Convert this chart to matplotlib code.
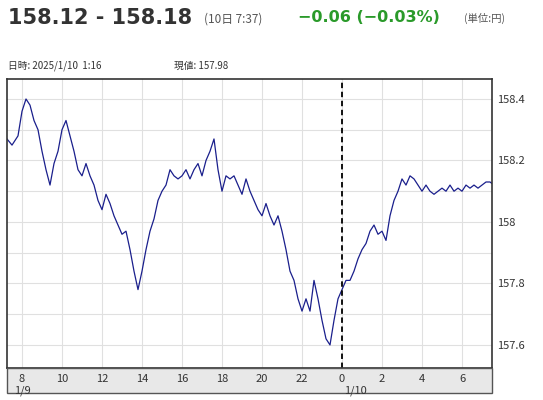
import matplotlib.pyplot as plt
from matplotlib.patches import Rectangle

plt.rcParams['font.family'] = ['Noto Sans CJK JP', 'DejaVu Sans']

vals = [158.27, 158.25, 158.28, 158.36, 158.40, 158.38, 158.33, 158.30, 158.23, 158.17,
        158.12, 158.19, 158.23, 158.30, 158.33, 158.28, 158.23, 158.17, 158.15, 158.19,
        158.15, 158.12, 158.07, 158.04, 158.09, 158.06, 158.02, 157.99, 157.96, 157.97,
        157.91, 157.84, 157.78, 157.84, 157.91, 157.97, 158.01, 158.07, 158.10, 158.12,
        158.17, 158.15, 158.14, 158.15, 158.17, 158.14, 158.17, 158.19, 158.15, 158.20,
        158.23, 158.27, 158.17, 158.10, 158.15, 158.14, 158.15, 158.12, 158.09, 158.14,
        158.10, 158.07, 158.04, 158.02, 158.06, 158.02, 157.99, 158.02, 157.97, 157.91,
        157.84, 157.81, 157.75, 157.71, 157.75, 157.71, 157.81, 157.75, 157.68, 157.62,
        157.60, 157.68, 157.75, 157.78, 157.81, 157.81, 157.84, 157.88, 157.91, 157.93,
        157.97, 157.99, 157.96, 157.97, 157.94, 158.02, 158.07, 158.10, 158.14, 158.12,
        158.15, 158.14, 158.12, 158.10, 158.12, 158.10, 158.09, 158.10, 158.11, 158.10,
        158.12, 158.10, 158.11, 158.10, 158.12, 158.11, 158.12, 158.11, 158.12, 158.13,
        158.13, 158.12, 158.09, 158.14]
hours = [7.25, 7.5, 7.8] + [8 + 0.2 * i for i in range(len(vals) - 3)]

xticks = [8, 10, 12, 14, 16, 18, 20, 22, 24, 26, 28, 30]
xlabels = ['8\n1/9', '10', '12', '14', '16', '18', '20', '22', '0\n1/10', '2', '4', '6']
yticks = [157.6, 157.8, 158.0, 158.2, 158.4]
ylabels = ['157.6', '157.8', '158', '158.2', '158.4']

fig = plt.figure(figsize=(5.43, 4), dpi=100)
ax = fig.add_axes([7/543, 0.08, 485/543, 0.7225])
ax.plot(hours, vals, color='#1a1f8c', lw=0.9)
ax.axvline(24, color='black', ls=(0, (3, 2)), lw=1.3)
ax.set_xlim(7.25, 31.5)
ax.set_ylim(157.525, 158.465)

for h in xticks:
    ax.axvline(h, color='#e0e0e0', lw=0.8, zorder=0)
for y in [157.6, 157.7, 157.8, 157.9, 158.0, 158.1, 158.2, 158.3, 158.4]:
    ax.axhline(y, color='#e0e0e0', lw=0.8, zorder=0)

ax.set_xticks([])
ax.yaxis.tick_right()
ax.set_yticks(yticks)
ax.set_yticklabels(ylabels, fontsize=8, color='#333333')
ax.tick_params(axis='y', length=0, pad=4)
for s in ax.spines.values():
    s.set_color('#333333')
    s.set_linewidth(1.2)

# grey band with time labels
fig.patches.append(Rectangle((7/543, 7/400), 485/543, 25/400, transform=fig.transFigure,
                             facecolor='#e8e8e8', edgecolor='#555555', lw=1))
for t, lab in zip(xticks, xlabels):
    xf = (7 + (t - 7.25) * 20) / 543
    if '\n' in lab:
        a, b = lab.split('\n')
        fig.text(xf, 0.065, a, ha='center', va='top', fontsize=8, color='#333333')
        fig.text(xf + (0.0 if t == 8 else 0.025), 0.035, b, ha='center', va='top', fontsize=8, color='#333333')
    else:
        fig.text(xf, 0.065, lab, ha='center', va='top', fontsize=8, color='#333333')

fig.text(0.015, 0.955, '158.12 - 158.18', fontsize=15, fontweight='bold', color='#333333',
         va='center', family='DejaVu Sans')
fig.text(0.375, 0.953, '(10日 7:37)', fontsize=8.5, color='#555555', va='center')
fig.text(0.548, 0.955, '−0.06 (−0.03%)', fontsize=11.5, fontweight='bold', color='#2a9a2a',
         va='center', family='DejaVu Sans')
fig.text(0.855, 0.953, '(単位:円)', fontsize=7.5, color='#555555', va='center')
fig.text(0.015, 0.835, '日時: 2025/1/10  1:16', fontsize=7, color='#333333', va='center')
fig.text(0.32, 0.835, '現値: 157.98', fontsize=7, color='#333333', va='center')

plt.savefig('out.png', dpi=100)
